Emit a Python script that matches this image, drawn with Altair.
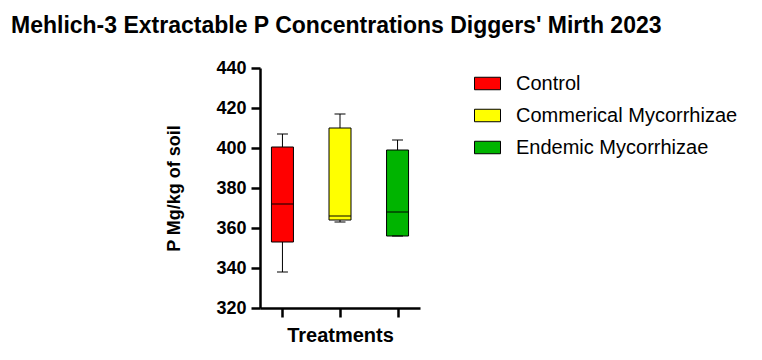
import altair as alt
import pandas as pd

treatments = ["Control", "Commerical Mycorrhizae", "Endemic Mycorrhizae"]
colors = ["#ff0000", "#ffff00", "#00b400"]
mins = [338, 363, 356]
q1s = [353, 364, 356]
medians = [372, 366, 368]
q3s = [400.5, 410, 399]
maxs = [407, 417, 404]

df = pd.DataFrame({
    "Treatment": treatments,
    "min": mins, "q1": q1s, "median": medians, "q3": q3s, "max": maxs,
})

FONT = "Liberation Sans"

x = alt.X("Treatment:N", sort=treatments,
          scale=alt.Scale(type="point", padding=0.39),
          axis=alt.Axis(title="Treatments", labels=False, domainColor="black", grid=False,
                        domainWidth=2.5, tickColor="black", tickWidth=2.5, tickSize=9,
                        titleFont=FONT, titleFontSize=20, titleFontWeight="bold",
                        titleColor="black", titlePadding=7))
yscale = alt.Scale(domain=[320, 440], nice=False, zero=False)
yaxis = alt.Axis(title="P Mg/kg of soil", values=[320, 340, 360, 380, 400, 420, 440],
                 domainColor="black", domainWidth=2.5, tickColor="black", tickWidth=2.5,
                 tickSize=9, labelFont=FONT, labelFontSize=18, labelFontWeight="bold",
                 labelColor="black", labelPadding=5, grid=False,
                 titleFont=FONT, titleFontSize=18, titleFontWeight="bold",
                 titleColor="black", titlePadding=32)

base = alt.Chart(df)

whisker = base.mark_rule(color="black", strokeWidth=1).encode(
    x=x, y=alt.Y("min:Q", scale=yscale, axis=yaxis), y2="max:Q")

box = base.mark_bar(size=22, stroke="black", strokeWidth=1, opacity=1).encode(
    x=x, y=alt.Y("q1:Q", scale=yscale, axis=yaxis), y2="q3:Q",
    color=alt.Color("Treatment:N", sort=treatments,
                    scale=alt.Scale(domain=treatments, range=colors),
                    legend=alt.Legend(title=None, orient="none", legendX=214, legendY=2,
                                      symbolType="M-1,-0.48H1V0.48H-1Z", symbolSize=676,
                                      symbolStrokeColor="black", symbolStrokeWidth=1,
                                      symbolOpacity=1, labelFont=FONT, labelFontSize=20,
                                      labelColor="black", labelOffset=15, rowPadding=8,
                                      labelLimit=400)))

med = base.mark_tick(color="black", thickness=1, size=22, opacity=1).encode(
    x=x, y=alt.Y("median:Q", scale=yscale, axis=yaxis))
capmax = base.mark_tick(color="black", thickness=1, size=11, opacity=1).encode(
    x=x, y=alt.Y("max:Q", scale=yscale, axis=yaxis))
capmin = base.mark_tick(color="black", thickness=1, size=11, opacity=1).encode(
    x=x, y=alt.Y("min:Q", scale=yscale, axis=yaxis))

chart = alt.layer(whisker, box, med, capmax, capmin).properties(
    width=160, height=240,
    background="white",
    autosize=alt.AutoSizeParams(type="none"),
    padding={"left": 252, "top": 60, "right": 330, "bottom": 44},
    title=alt.TitleParams("Mehlich-3 Extractable P Concentrations Diggers' Mirth 2023",
                          anchor="start", frame="group", dx=-249, offset=21,
                          font=FONT, fontSize=23, fontWeight="bold", color="black"),
).configure_view(stroke=None, strokeWidth=0).configure_axis(grid=False)

chart.save("out.html", embed_options={"renderer": "svg", "actions": False})
